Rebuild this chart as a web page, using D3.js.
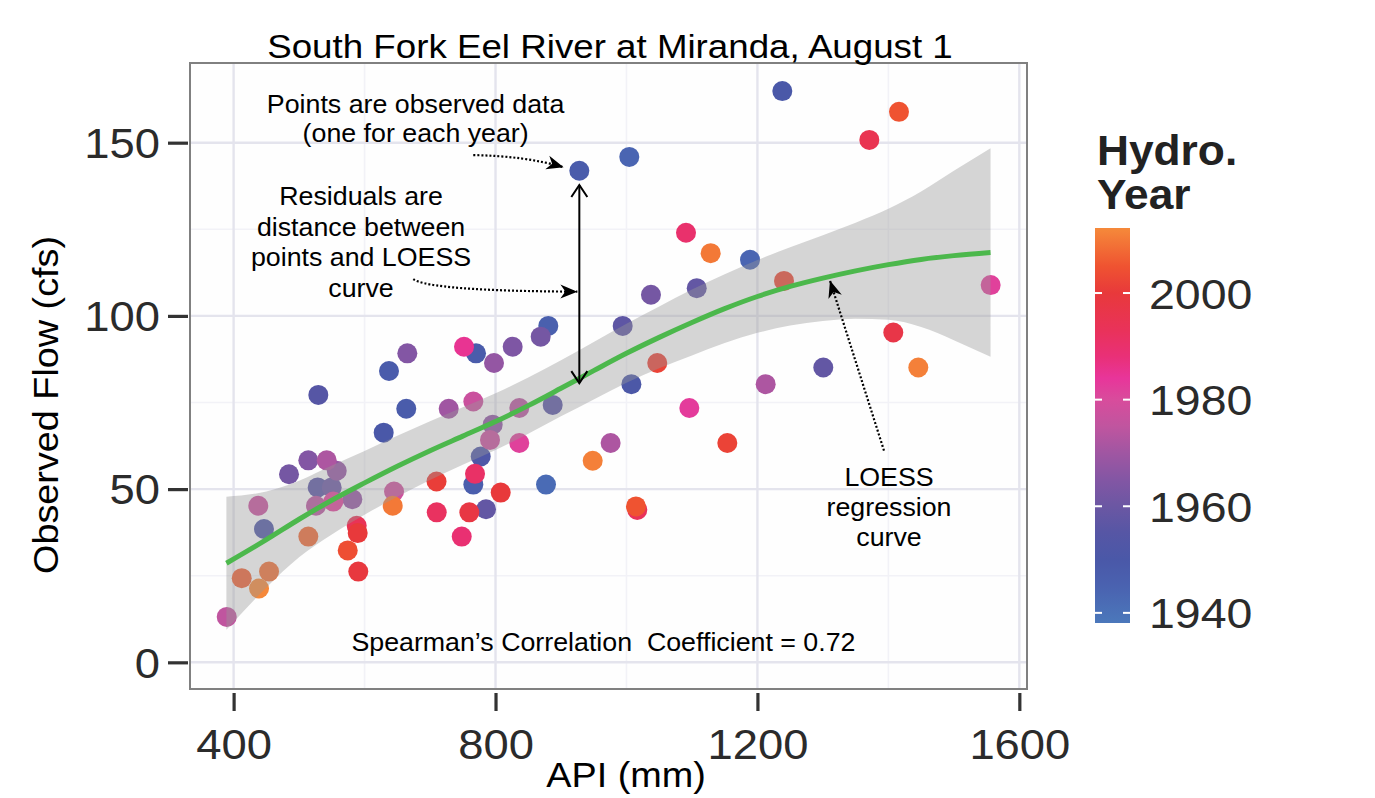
<!DOCTYPE html>
<html><head><meta charset="utf-8">
<script src="https://cdn.jsdelivr.net/npm/d3@7"></script>
<style>
body{margin:0;background:#fff;}
svg{display:block;}
text{font-family:"Liberation Sans",Arial,Helvetica,sans-serif;white-space:pre;}
</style>
</head><body>
<svg id="c" width="1375" height="798"></svg>
<script>
// ---------------- data ----------------
const api  = [529.4,665.3,637.3,751.9,770.2,663.7,629.2,728.5,766.1,484.6,514.1,542.2,557.5,528.4,549.8,437.7,446.4,525.8,552.3,581.3,
              514.1,645.0,643.0,588.0,589.5,709.9,710.2,748.4,760.0,768.7,766.1,777.4,785.5,574.3,590.4,412.4,454.1,438.8,389.5,880.6,
              869.0,826.2,797.7,994.2,1047.0,1007.5,1096.0,836.3,887.3,795.7,791.6,836.3,807.9,975.8,948.4,877.1,1014.5,1016.5,1238.0,1416.2,
              1370.9,1090.9,1128.6,1188.7,1240.6,1107.3,1556.2,1407.5,1300.6,1445.7,1212.6,1037.4,1154.0,928.0,1004.3];
const flow = [77.2,89.2,84.1,91.1,89.2,73.2,66.3,73.2,75.3,54.3,58.3,58.3,55.3,50.5,50.5,45.2,38.5,45.2,46.4,47.1,
              36.3,49.3,45.2,39.4,37.3,52.2,43.3,36.3,43.3,54.4,51.3,59.4,44.2,32.3,26.2,24.3,26.2,21.3,13.1,97.1,
              94.0,91.1,86.4,97.1,86.4,80.3,73.4,73.4,74.3,68.6,64.2,63.3,49.0,63.3,58.2,51.3,45.0,44.0,164.9,158.9,
              150.8,124.0,118.1,116.2,110.1,108.0,108.9,95.2,85.1,85.1,80.3,106.1,63.3,141.9,145.9];
const year = [1955,1965,1948,1985,1948,1948,1950,1970,1977,1962,1965,1972,1968,1956,1960,1977,1952,1974,1982,1968,
              2008,1978,2010,1994,2000,2001,1992,1989,1998,1991,1947,1952,1958,2004,1999,2007,2009,2012,1975,1946,
              1962,1964,1968,1957,2002,1951,1983,1974,1956,1967,1977,1982,2000,1972,2011,1942,2005,1993,1950,2005,
              1995,1990,2010,1944,2003,1958,1982,1997,1958,2011,1972,1962,2002,1948,1944];

// LOESS fit and its confidence band
const loessX   = [389,450,500,550,600,650,700,750,800,850,900,950,1000,1050,1100,1150,1200,1250,1300,1350,1400,1450,1500,1556];
const loessFit = [28.6,35.4,41.3,46.8,51.8,56.6,61.1,65.3,69.5,74.1,79.1,84.2,89.2,93.8,98.1,102.1,105.6,108.5,110.9,113.0,114.8,116.3,117.4,118.3];
const loessLo  = [9.4,21.6,30.3,36.9,42.6,47.8,52.6,57.0,61.3,66.0,71.0,75.9,80.7,84.9,88.6,92.2,95.1,97.2,98.5,99.2,98.9,96.8,93.0,88.2];
const loessHi  = [47.8,49.3,52.4,56.8,61.0,65.4,69.6,73.6,77.7,82.2,87.2,92.5,97.7,102.7,107.6,112.0,116.1,119.8,123.3,126.9,130.9,135.9,141.9,148.4];

const xTicks = [400,800,1200,1600];
const xMinor = [600,1000,1400];
const yTicks = [0,50,100,150];
const yMinor = [25,75,125];
const legendTicks = [1940,1960,1980,2000];
const yearDomain = [1938.1,2012.2];
const colorYears = [1938,1945,1950,1955,1960,1965,1970,1975,1980,1984,1988,1993,2000,2005,2012];
const colorHex   = ["#4b78bb","#4a62b0","#4a58a8","#5656a5","#6b57a3","#8356a4","#a056a2","#c0559f","#d84c9c","#e8359a","#e93078","#e9325a","#e8393b","#ef5331","#f5883a"];

const titleText = "South Fork Eel River at Miranda, August 1";
const xTitle = "API (mm)";
const yTitle = "Observed Flow (cfs)";
const legendTitle = ["Hydro.","Year"];
const noteSpearman = "Spearman\u2019s Correlation  Coefficient = 0.72";
const notePoints = ["Points are observed data","(one for each year)"];
const noteResid = ["Residuals are","distance between","points and LOESS","curve"];
const noteLoess = ["LOESS","regression","curve"];

// ---------------- layout ----------------
const P = {l:190, r:1027, t:63, b:689};
const svg = d3.select("#c");
const x = d3.scaleLinear().domain([333.4,1611.7]).range([P.l,P.r]);
const y = d3.scaleLinear().domain([-7.7,173]).range([P.b,P.t]);
const color = d3.scaleLinear().domain(colorYears).range(colorHex).interpolate(d3.interpolateRgb).clamp(true);
const FONT_SX = 1.08;

function stretchText(sel, tx, ty, sx, rot){
  sel.attr("x",0).attr("y",0)
     .attr("transform",`translate(${tx},${ty})${rot?` rotate(${rot})`:""} scale(${sx},1)`);
}

// panel background + grid
svg.append("rect").attr("x",P.l).attr("y",P.t).attr("width",P.r-P.l).attr("height",P.b-P.t).attr("fill","#fefefe");
const grid = svg.append("g");
grid.selectAll(".vm").data(xMinor).join("line")
  .attr("x1",d=>x(d)).attr("x2",d=>x(d)).attr("y1",P.t).attr("y2",P.b)
  .attr("stroke","#f2f2f7").attr("stroke-width",1.6);
grid.selectAll(".hm").data(yMinor).join("line")
  .attr("y1",d=>y(d)).attr("y2",d=>y(d)).attr("x1",P.l).attr("x2",P.r)
  .attr("stroke","#f2f2f7").attr("stroke-width",1.6);
grid.selectAll(".vM").data(xTicks).join("line")
  .attr("x1",d=>x(d)).attr("x2",d=>x(d)).attr("y1",P.t).attr("y2",P.b)
  .attr("stroke","#e4e4ed").attr("stroke-width",2.4);
grid.selectAll(".hM").data(yTicks).join("line")
  .attr("y1",d=>y(d)).attr("y2",d=>y(d)).attr("x1",P.l).attr("x2",P.r)
  .attr("stroke","#e4e4ed").attr("stroke-width",2.4);

// points (drawn in year order)
const pts = api.map((a,i)=>({a, f:flow[i], yr:year[i], i})).sort((p,q)=>p.yr-q.yr || p.i-q.i);
svg.append("g").selectAll("circle").data(pts).join("circle")
  .attr("cx",d=>x(d.a)).attr("cy",d=>y(d.f)).attr("r",10)
  .attr("fill",d=>color(d.yr));

// ribbon + loess line
const band = loessX.map((v,i)=>({x:v, lo:loessLo[i], hi:loessHi[i], f:loessFit[i]}));
svg.append("path").datum(band)
  .attr("d", d3.area().x(d=>x(d.x)).y0(d=>y(d.lo)).y1(d=>y(d.hi)).curve(d3.curveMonotoneX))
  .attr("fill","#999999").attr("fill-opacity",0.4);
svg.append("path").datum(band)
  .attr("d", d3.line().x(d=>x(d.x)).y(d=>y(d.f)).curve(d3.curveMonotoneX))
  .attr("fill","none").attr("stroke","#4cb84c").attr("stroke-width",5);

// panel border
svg.append("rect").attr("x",P.l).attr("y",P.t).attr("width",P.r-P.l).attr("height",P.b-P.t)
  .attr("fill","none").attr("stroke","#808080").attr("stroke-width",2);

// axes
const ax = svg.append("g").attr("transform",`translate(0,${P.b+4})`)
  .call(d3.axisBottom(x).tickValues(xTicks).tickSize(18).tickFormat(d3.format("d")));
ax.select(".domain").remove();
ax.selectAll(".tick line").attr("stroke","#333").attr("stroke-width",3.2);
ax.selectAll(".tick text").attr("fill","#2b2b2b").attr("font-size",42).attr("dy",null)
  .each(function(){ stretchText(d3.select(this),0,66,FONT_SX); });

const ay = svg.append("g").attr("transform",`translate(${P.l-2},0)`)
  .call(d3.axisLeft(y).tickValues(yTicks).tickSize(20).tickFormat(d3.format("d")));
ay.select(".domain").remove();
ay.selectAll(".tick line").attr("stroke","#333").attr("stroke-width",3.2);
ay.selectAll(".tick text").attr("fill","#2b2b2b").attr("font-size",42).attr("dy","0.35em")
  .each(function(){ stretchText(d3.select(this),-28,0,FONT_SX); });

// titles
stretchText(svg.append("text").text(titleText).attr("font-size",34).attr("text-anchor","middle").attr("fill","#000"),610,58,FONT_SX);
stretchText(svg.append("text").text(xTitle).attr("font-size",35).attr("text-anchor","middle").attr("fill","#000"),626,787,FONT_SX);
stretchText(svg.append("text").text(yTitle).attr("font-size",35).attr("text-anchor","middle").attr("fill","#000"),58,405,FONT_SX,-90);

// ---------------- annotations ----------------
const defs = svg.append("defs");
defs.append("marker").attr("id","stealth").attr("viewBox","-19 -9 21 18").attr("refX",0).attr("refY",0)
  .attr("markerWidth",21).attr("markerHeight",18).attr("markerUnits","userSpaceOnUse").attr("orient","auto")
  .append("path").attr("d","M0,0 L-17,-7 L-12,0 L-17,7 Z").attr("fill","#000");
defs.append("marker").attr("id","openV").attr("viewBox","-14 -10 16 20").attr("refX",0).attr("refY",0)
  .attr("markerWidth",16).attr("markerHeight",20).attr("markerUnits","userSpaceOnUse").attr("orient","auto-start-reverse")
  .append("path").attr("d","M-12,-8 L0,0 L-12,8").attr("fill","none").attr("stroke","#000").attr("stroke-width",2);

function multiline(lines, cx, cy, lh){
  const t = svg.append("text").attr("font-size",26).attr("text-anchor","middle").attr("fill","#000");
  lines.forEach((s,k)=>t.append("tspan").attr("x",0).attr("dy",k?lh:0).text(s));
  t.attr("transform",`translate(${x(cx)},${y(cy)}) scale(1.03,1)`);
}
multiline(notePoints, 678, 158.5, 29);
multiline(noteResid, 594.6, 132.0, 30.5);
multiline(noteLoess, 1401, 50.8, 30);
multiline([noteSpearman], 964.8, 3.4, 0);

// dotted arrows
const dot = {stroke:"#000","stroke-width":2.2,"stroke-dasharray":"2,2",fill:"none"};
function dotted(d){ const p = svg.append("path").attr("d",d).attr("marker-end","url(#stealth)");
  Object.entries(dot).forEach(([k,v])=>p.attr(k,v)); }
dotted(`M${x(766)},${y(146.4)} Q${x(845)},${y(146.2)} ${x(904)},${y(142.9)}`);
dotted(`M${x(674.4)},${y(110.6)} Q${x(700)},${y(107.2)} ${x(925)},${y(107.0)}`);
dotted(`M${x(1393.3)},${y(61.1)} L${x(1310.8)},${y(110.2)}`);

// residual double arrow
svg.append("line").attr("x1",x(928)).attr("x2",x(928)).attr("y1",y(137.8)).attr("y2",y(80.6))
  .attr("stroke","#000").attr("stroke-width",2)
  .attr("marker-start","url(#openV)").attr("marker-end","url(#openV)");

// ---------------- legend ----------------
const yl = d3.scaleLinear().domain(yearDomain).range([623,228]);
const grad = defs.append("linearGradient").attr("id","yrgrad").attr("x1",0).attr("y1",1).attr("x2",0).attr("y2",0);
colorYears.forEach((yr,k)=>grad.append("stop")
  .attr("offset",Math.max(0,Math.min(1,(yr-yearDomain[0])/(yearDomain[1]-yearDomain[0]))))
  .attr("stop-color",colorHex[k]));
svg.append("rect").attr("x",1095).attr("y",yl(yearDomain[1])).attr("width",35)
  .attr("height",yl(yearDomain[0])-yl(yearDomain[1])).attr("fill","url(#yrgrad)");
const lg = svg.append("g");
lg.selectAll(".tl").data(legendTicks).join("line").attr("x1",1095).attr("x2",1102)
  .attr("y1",d=>yl(d)).attr("y2",d=>yl(d)).attr("stroke","#fff").attr("stroke-width",2);
lg.selectAll(".tr").data(legendTicks).join("line").attr("x1",1123).attr("x2",1130)
  .attr("y1",d=>yl(d)).attr("y2",d=>yl(d)).attr("stroke","#fff").attr("stroke-width",2);
lg.selectAll("text.lab").data(legendTicks).join("text").attr("class","lab")
  .text(d=>d).attr("font-size",43).attr("fill","#2b2b2b").attr("dy","0.36em")
  .each(function(d){ stretchText(d3.select(this),1149,yl(d),FONT_SX); });
legendTitle.forEach((s,k)=>stretchText(
  svg.append("text").text(s).attr("font-size",43).attr("font-weight","bold").attr("fill","#222"),
  1097,165+k*44,1.03));
</script>
</body></html>
